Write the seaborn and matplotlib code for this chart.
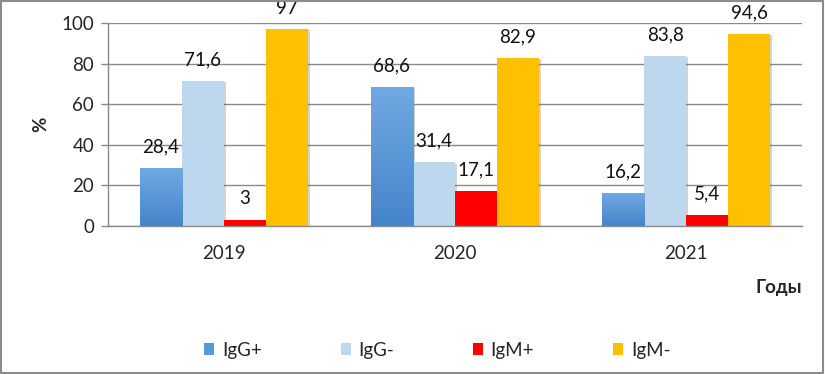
import numpy as np
import pandas as pd
import matplotlib
matplotlib.use("Agg")
import matplotlib.pyplot as plt
import matplotlib.patheffects as pe
from matplotlib.colors import LinearSegmentedColormap
from matplotlib.patches import Rectangle
import seaborn as sns

# Data
years = ["2019", "2020", "2021"]
series = ["IgG+", "IgG-", "IgM+", "IgM-"]
igg_pos = [28.4, 68.6, 16.2]
igg_neg = [71.6, 31.4, 83.8]
igm_pos = [3, 17.1, 5.4]
igm_neg = [97, 82.9, 94.6]
colors = ["#5A98D8", "#BDD7EE", "#FF0000", "#FFC000"]

df = pd.DataFrame({
    "year": years * 4,
    "series": [s for s in series for _ in years],
    "value": igg_pos + igg_neg + igm_pos + igm_neg,
})

sns.set_style("white")
plt.rcParams["font.family"] = ["Lato", "DejaVu Sans"]
FS = 13.5

fig = plt.figure(figsize=(8.25, 3.74), dpi=100)
ax = fig.add_axes([0.1309, 0.3957, 0.8412, 0.5428])

sns.barplot(data=df, x="year", y="value", hue="series", hue_order=series,
            palette=colors, width=0.727, saturation=1, linewidth=0,
            legend=False, ax=ax)

shadow = [pe.SimplePatchShadow(offset=(1.5, -1), alpha=0.25, shadow_rgbFace="#555555"), pe.Normal()]
for cont in ax.containers:
    for bar in cont:
        bar.set_path_effects(shadow)

# gradient fill for IgG+ bars
grad_cmap = LinearSegmentedColormap.from_list("g", ["#4585C9", "#70A9E3"])
grad = np.linspace(0, 1, 100).reshape(-1, 1)
for bar in ax.containers[0]:
    x, w, h = bar.get_x(), bar.get_width(), bar.get_height()
    im = ax.imshow(grad, extent=[x, x + w, 0, h], origin="lower", aspect="auto",
                   cmap=grad_cmap, zorder=bar.get_zorder() + 0.1)
    im.set_clip_path(bar)

# data labels
for cont, vals in zip(ax.containers, [igg_pos, igg_neg, igm_pos, igm_neg]):
    labels = [f"{v:g}".replace(".", ",") for v in vals]
    ax.bar_label(cont, labels=labels, padding=9, fontsize=FS, color="#111111")

ax.set_xlim(-0.5, 2.5)
ax.set_ylim(0, 100)
ax.set_yticks(range(0, 101, 20))
ax.grid(axis="y", color="#8a8a8a", linewidth=1)
ax.set_axisbelow(True)

for side in ["top", "right"]:
    ax.spines[side].set_visible(False)
for side in ["left", "bottom"]:
    ax.spines[side].set_color("#8a8a8a")
    ax.spines[side].set_linewidth(1)

ax.set_xticks([-0.5, 0.5, 1.5, 2.5], minor=True)
ax.tick_params(axis="x", which="major", length=0, pad=14, labelsize=FS)
ax.tick_params(axis="x", which="minor", length=5, color="#8a8a8a", width=1)
ax.tick_params(axis="y", length=5, color="#8a8a8a", width=1, pad=5, labelsize=FS, left=True)

ax.set_ylabel("%", fontsize=FS, fontweight="bold", labelpad=9)
ax.set_xlabel("Годы", fontsize=FS, fontweight="bold", loc="right", labelpad=12)

handles = [Rectangle((0, 0), 1, 1, facecolor=c, edgecolor="none") for c in colors]
fig.legend(handles, series, loc="center", bbox_to_anchor=(0.53, 0.064), ncol=4,
           frameon=False, fontsize=FS, handlelength=0.55, handleheight=0.55,
           handletextpad=0.4, columnspacing=4.2)

fig.add_artist(Rectangle((0.001, 0.002), 0.997, 0.995, transform=fig.transFigure,
                         fill=False, edgecolor="#8c8c8c", linewidth=1.5))

fig.savefig("out.png", dpi=100)
